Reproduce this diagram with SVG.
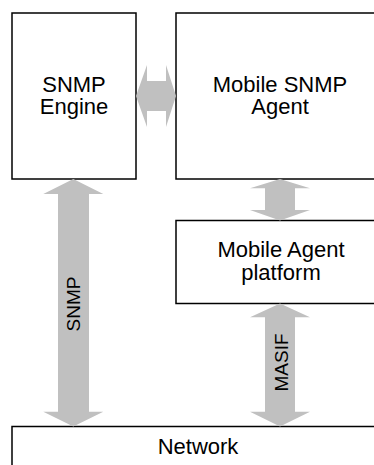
<svg xmlns="http://www.w3.org/2000/svg" width="374" height="465" viewBox="0 0 374 465">
<style>
.box{fill:#ffffff;stroke:#000000;stroke-width:1.5}
.lbl{font-family:"Liberation Sans",Arial,sans-serif;font-size:22px;fill:#000000;text-anchor:middle}
.vl{font-family:"Liberation Sans",Arial,sans-serif;font-size:19px;fill:#000000;text-anchor:middle}
.arr{fill:#c0c0c0;stroke:none}
</style>
<rect width="374" height="465" fill="#ffffff"/>
<g id="snmp-engine">
<rect class="box" x="12" y="13" width="124" height="166"/>
<text class="lbl" x="74" y="91.5">SNMP</text>
<text class="lbl" x="74" y="114">Engine</text>
</g>
<g id="mobile-snmp-agent">
<rect class="box" x="176" y="13" width="210" height="166"/>
<text class="lbl" x="280" y="91.5">Mobile SNMP</text>
<text class="lbl" x="280" y="114">Agent</text>
</g>
<g id="mobile-agent-platform">
<rect class="box" x="176" y="220.5" width="210" height="83"/>
<text class="lbl" x="281" y="257">Mobile Agent</text>
<text class="lbl" x="281" y="280">platform</text>
</g>
<g id="network">
<rect class="box" x="12" y="426.5" width="374" height="60"/>
<text class="lbl" x="198" y="454">Network</text>
</g>
<g id="connectors">
<polygon class="arr" points="136,96 147,65 147,81 166,81 166,65 176,96 166,127 166,111 147,111 147,127"/>
<polygon class="arr" points="73.3,179 103.3,194 89,194 89,411.7 103.3,411.7 73.3,426.5 43.3,411.7 58,411.7 58,194 43.3,194"/>
<polygon class="arr" points="280,179 310,188.3 295,188.3 295,210 310,210 280,220.5 250,210 265,210 265,188.3 250,188.3"/>
<polygon class="arr" points="280,303.5 310,317.3 295,317.3 295,411.7 310,411.7 280,426.5 250,411.7 265,411.7 265,317.3 250,317.3"/>
<text class="vl" transform="translate(79.5,304) rotate(-90)" x="0" y="0">SNMP</text>
<text class="vl" transform="translate(288,362.5) rotate(-90)" x="0" y="0">MASIF</text>
</g>
</svg>
